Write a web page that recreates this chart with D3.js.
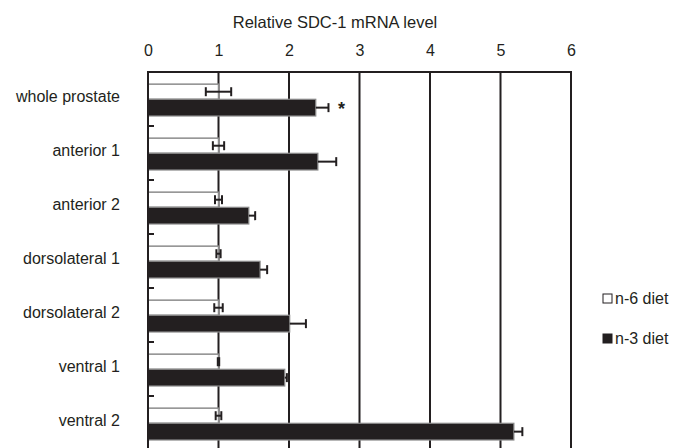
<!DOCTYPE html>
<html>
<head>
<meta charset="utf-8">
<script src="https://cdn.jsdelivr.net/npm/d3@7"></script>
<style>
  html, body { margin: 0; padding: 0; background: #fff; }
  svg { display: block; font-family: "Liberation Sans", Arial, Helvetica, sans-serif; }
</style>
</head>
<body>
<svg id="chart" width="681" height="448"></svg>
<script>
// ---- data ----
const categories = ["whole prostate", "anterior 1", "anterior 2", "dorsolateral 1", "dorsolateral 2", "ventral 1", "ventral 2"];
const n6Values = [1.0, 1.0, 1.0, 1.0, 1.0, 1.0, 1.0];
const n6Errors = [0.18, 0.08, 0.05, 0.03, 0.06, 0.01, 0.04];
const n3Values = [2.38, 2.41, 1.43, 1.59, 2.01, 1.94, 5.19];
const n3Errors = [0.18, 0.26, 0.09, 0.10, 0.23, 0.03, 0.12];
const xTicks = [0, 1, 2, 3, 4, 5, 6];
const seriesNames = ["n-6 diet", "n-3 diet"];
const significant = ["whole prostate"];
const axisTitle = "Relative SDC-1 mRNA level";

// ---- layout ----
const dark = "#231f20";
const edge = "#8c8c8c";
const svg = d3.select("#chart");

const x = d3.scaleLinear().domain([0, 6]).range([148, 571]);
const y = d3.scaleBand().domain(categories).range([72, 450]).paddingInner(0).paddingOuter(0);
const bw = y.bandwidth();

const rows = categories.map((c, i) => ({
  cat: c, n6: n6Values[i], e6: n6Errors[i], n3: n3Values[i], e3: n3Errors[i]
}));

// vertical gridlines
svg.append("g").selectAll("line").data(xTicks).join("line")
  .attr("x1", d => x(d)).attr("x2", d => x(d))
  .attr("y1", 72).attr("y2", 450)
  .attr("stroke", dark).attr("stroke-width", 2);

// top axis labels
const topAxis = d3.axisTop(x).tickValues(xTicks).tickSize(0).tickPadding(0).tickFormat(d3.format("d"));
const gTop = svg.append("g").attr("transform", "translate(0,56)").call(topAxis);
gTop.select(".domain").remove();
gTop.selectAll("text").attr("font-size", 16).attr("fill", dark)
  .attr("font-family", "Liberation Sans, Arial, sans-serif").attr("dy", 0);
svg.append("line").attr("x1", x(0) - 1).attr("x2", x(6) + 1).attr("y1", 72).attr("y2", 72)
  .attr("stroke", dark).attr("stroke-width", 2);

// axis title
svg.append("text").attr("x", 335).attr("y", 28).attr("text-anchor", "middle")
  .attr("font-size", 16.5).attr("fill", dark).text(axisTitle);

// category ticks on the left axis (between groups)
svg.append("g").selectAll("line").data(categories.slice(1)).join("line")
  .attr("x1", x(0)).attr("x2", x(0) + 6)
  .attr("y1", d => y(d)).attr("y2", d => y(d))
  .attr("stroke", dark).attr("stroke-width", 2);

// bars
const g = svg.append("g");
g.selectAll("rect.n6").data(rows).join("rect").attr("class", "n6")
  .attr("x", x(0)).attr("y", d => y(d.cat) + bw * 0.225)
  .attr("width", d => x(d.n6) - x(0)).attr("height", bw * 0.28)
  .attr("fill", "#fff").attr("stroke", edge).attr("stroke-width", 1.5);
g.selectAll("rect.n3").data(rows).join("rect").attr("class", "n3")
  .attr("x", x(0)).attr("y", d => y(d.cat) + bw * 0.505)
  .attr("width", d => x(d.n3) - x(0)).attr("height", bw * 0.31)
  .attr("fill", dark).attr("stroke", edge).attr("stroke-width", 1.2);

// y axis line over bars
svg.append("line").attr("x1", x(0)).attr("x2", x(0)).attr("y1", 71).attr("y2", 450)
  .attr("stroke", dark).attr("stroke-width", 2);

// n-6 error bars (both sides visible on the white bars)
const cy6 = bw * 0.365, cy3 = bw * 0.66, cap = 4.5;
const e6 = svg.append("g");
e6.selectAll("line.h").data(rows).join("line").attr("class", "h")
  .attr("x1", d => x(d.n6 - d.e6)).attr("x2", d => x(d.n6 + d.e6))
  .attr("y1", d => y(d.cat) + cy6).attr("y2", d => y(d.cat) + cy6)
  .attr("stroke", dark).attr("stroke-width", 2);
e6.selectAll("line.cr").data(rows).join("line").attr("class", "cr")
  .attr("x1", d => x(d.n6 + d.e6)).attr("x2", d => x(d.n6 + d.e6))
  .attr("y1", d => y(d.cat) + cy6 - cap).attr("y2", d => y(d.cat) + cy6 + cap)
  .attr("stroke", dark).attr("stroke-width", 2);
e6.selectAll("line.cl").data(rows).join("line").attr("class", "cl")
  .attr("x1", d => x(d.n6 - d.e6)).attr("x2", d => x(d.n6 - d.e6))
  .attr("y1", d => y(d.cat) + cy6 - cap).attr("y2", d => y(d.cat) + cy6 + cap)
  .attr("stroke", dark).attr("stroke-width", 2);

// n-3 error bars (only the outer half shows beyond the dark bars)
const e3 = svg.append("g");
e3.selectAll("line.h").data(rows).join("line").attr("class", "h")
  .attr("x1", d => x(d.n3)).attr("x2", d => x(d.n3 + d.e3))
  .attr("y1", d => y(d.cat) + cy3).attr("y2", d => y(d.cat) + cy3)
  .attr("stroke", dark).attr("stroke-width", 2);
e3.selectAll("line.c").data(rows).join("line").attr("class", "c")
  .attr("x1", d => x(d.n3 + d.e3)).attr("x2", d => x(d.n3 + d.e3))
  .attr("y1", d => y(d.cat) + cy3 - cap).attr("y2", d => y(d.cat) + cy3 + cap)
  .attr("stroke", dark).attr("stroke-width", 2);

// significance marker
svg.append("g").selectAll("text").data(rows.filter(d => significant.includes(d.cat))).join("text")
  .attr("x", d => x(d.n3 + d.e3) + 13).attr("y", d => y(d.cat) + cy3 + 7)
  .attr("text-anchor", "middle").attr("font-size", 18).attr("font-weight", "bold").attr("fill", dark)
  .text("*");

// category labels
svg.append("g").selectAll("text").data(categories).join("text")
  .attr("x", 120).attr("y", d => y(d) + bw / 2 - 3)
  .attr("dy", "0.35em").attr("text-anchor", "end")
  .attr("font-size", 16).attr("fill", dark).text(d => d);

// legend
const leg = svg.append("g");
const legY = [298.5, 338.5];
leg.selectAll("rect").data(seriesNames).join("rect")
  .attr("x", 603).attr("y", (d, i) => legY[i] - 4.5).attr("width", 9).attr("height", 9)
  .attr("fill", (d, i) => i === 0 ? "#fff" : dark).attr("stroke", dark).attr("stroke-width", 1);
leg.selectAll("text").data(seriesNames).join("text")
  .attr("x", 615).attr("y", (d, i) => legY[i]).attr("dy", "0.35em")
  .attr("font-size", 16).attr("fill", dark).text(d => d);
</script>
</body>
</html>
